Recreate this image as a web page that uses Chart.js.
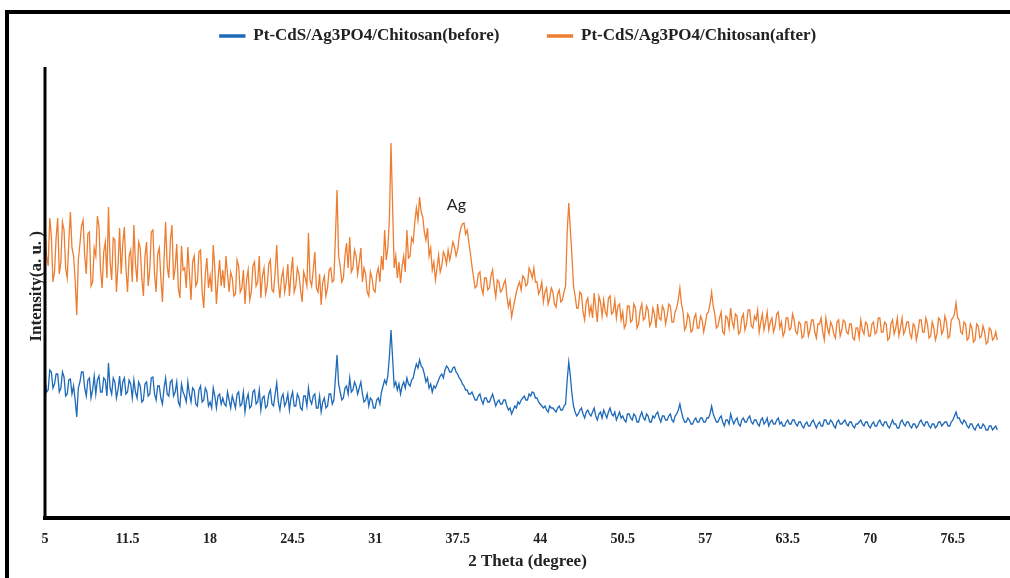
<!DOCTYPE html>
<html>
<head>
<meta charset="utf-8">
<script src="https://cdn.jsdelivr.net/npm/chart.js@4.4.0/dist/chart.umd.min.js"></script>
<style>
  body { margin: 0; background: #fff; }
</style>
</head>
<body>
<canvas id="xrdChart" width="1010" height="578"></canvas>
<script>
// 2 theta grid of the scan (degrees)
var thetaStart = 5;
var thetaStep = 0.125;

var xTicks = [5, 11.5, 18, 24.5, 31, 37.5, 44, 50.5, 57, 63.5, 70, 76.5];

// intensity, arbitrary units, one row per degree
var afterUse = [
  290, 262, 252, 300, 282, 236, 246, 280,
  300, 244, 256, 296, 288, 250, 240, 276,
  306, 270, 262, 238, 203, 258, 274, 292,
  298, 262, 244, 284, 286, 232, 236, 270,
  262, 302, 292, 248, 230, 266, 276, 240,
  311, 256, 238, 280, 278, 226, 252, 290,
  244, 274, 291, 250, 226, 262, 268, 236,
  293, 254, 236, 276, 270, 240, 222, 262,
  276, 232, 248, 286, 288, 244, 226, 264,
  270, 240, 216, 258, 296, 252, 240, 278,
  293, 238, 250, 274, 230, 220, 272, 248,
  250, 230, 271, 244, 218, 256, 262, 232,
  236, 266, 268, 226, 210, 244, 260, 230,
  242, 226, 273, 250, 214, 238, 258, 232,
  248, 230, 262, 244, 226, 246, 240, 222,
  224, 258, 252, 226, 230, 248, 214, 238,
  248, 218, 226, 252, 256, 232, 236, 262,
  220, 242, 250, 224, 232, 254, 258, 228,
  226, 246, 273, 236, 220, 240, 248, 226,
  236, 254, 222, 244, 261, 226, 232, 250,
  244, 228, 216, 246, 240, 232, 285, 238,
  232, 248, 266, 230, 226, 244, 213, 236,
  242, 222, 230, 248, 250, 236, 238, 282,
  328, 262, 252, 236, 240, 262, 275, 250,
  281, 246, 250, 268, 262, 244, 256, 270,
  236, 250, 244, 226, 222, 246, 240, 228,
  226, 244, 250, 236, 262, 248, 288, 258,
  270, 300, 375, 312, 250, 262, 240, 256,
  235, 252, 262, 246, 288, 260, 262, 280,
  276, 296, 310, 298, 321, 306, 301, 286,
  278, 290, 262, 270, 248, 256, 238, 250,
  263, 246, 252, 266, 262, 254, 268, 258,
  266, 276, 271, 262, 268, 282, 290, 294,
  295, 284, 288, 276, 265, 252, 241, 230,
  232, 244, 246, 230, 224, 240, 240, 228,
  230, 242, 248, 232, 221, 238, 236, 226,
  228, 234, 238, 222, 211, 218, 201, 210,
  218, 226, 232, 236, 228, 242, 240, 232,
  234, 250, 246, 240, 250, 236, 236, 224,
  228, 236, 216, 226, 230, 214, 220, 230,
  226, 214, 211, 224, 228, 216, 218, 226,
  232, 286, 315, 288, 262, 232, 222, 210,
  210, 226, 224, 206, 198, 216, 220, 204,
  212, 200, 225, 210, 196, 222, 216, 202,
  218, 206, 202, 220, 222, 204, 206, 218,
  200, 212, 214, 198, 206, 190, 194, 212,
  212, 196, 198, 214, 210, 190, 194, 208,
  214, 198, 200, 212, 208, 192, 196, 210,
  204, 190, 214, 200, 198, 212, 208, 194,
  202, 214, 212, 196, 196, 206, 210, 218,
  230, 214, 206, 188, 192, 204, 200, 186,
  188, 200, 204, 190, 190, 202, 198, 186,
  194, 204, 206, 214, 226, 212, 204, 190,
  192, 200, 206, 186, 184, 202, 200, 190,
  210, 196, 190, 204, 202, 184, 186, 200,
  204, 188, 194, 208, 208, 192, 190, 202,
  198, 208, 186, 196, 204, 188, 196, 206,
  188, 196, 200, 186, 192, 204, 206, 190,
  196, 182, 186, 200, 200, 188, 190, 204,
  198, 186, 184, 196, 194, 180, 182, 196,
  196, 182, 188, 198, 198, 186, 180, 194,
  194, 200, 186, 178, 200, 190, 184, 196,
  192, 184, 180, 196, 198, 182, 188, 198,
  196, 186, 184, 194, 194, 180, 178, 190,
  190, 180, 198, 188, 184, 196, 194, 182,
  182, 194, 196, 184, 186, 200, 200, 186,
  186, 196, 194, 178, 180, 194, 198, 184,
  190, 200, 182, 190, 200, 184, 188, 196,
  196, 184, 180, 194, 192, 178, 186, 198,
  198, 186, 186, 200, 194, 180, 182, 196,
  190, 178, 184, 200, 198, 184, 188, 202,
  196, 180, 182, 198, 200, 204, 215, 200,
  198, 186, 184, 196, 194, 178, 180, 194,
  190, 176, 178, 194, 192, 180, 182, 192,
  186, 174, 176, 190, 188, 178, 180, 186,
  178
];

var beforeUse = [
  140, 126, 128, 148, 146, 130, 134, 144,
  144, 126, 130, 146, 141, 122, 124, 138,
  139, 124, 132, 118, 101, 130, 136, 146,
  146, 130, 122, 138, 140, 120, 128, 142,
  124, 138, 142, 126, 126, 140, 138, 122,
  155, 130, 124, 140, 136, 120, 128, 142,
  122, 136, 140, 124, 126, 138, 134, 120,
  138, 126, 120, 136, 132, 116, 118, 134,
  136, 122, 124, 140, 141, 124, 118, 132,
  132, 120, 114, 130, 140, 124, 122, 136,
  138, 122, 126, 136, 116, 112, 134, 126,
  122, 116, 136, 124, 116, 130, 128, 114,
  112, 128, 132, 116, 118, 130, 126, 112,
  116, 110, 130, 122, 110, 122, 124, 114,
  120, 114, 112, 126, 118, 110, 122, 116,
  110, 124, 126, 112, 114, 126, 106, 118,
  124, 110, 112, 126, 128, 114, 116, 128,
  108, 120, 122, 110, 112, 124, 128, 114,
  112, 124, 135, 116, 108, 120, 124, 112,
  116, 124, 108, 120, 126, 112, 112, 124,
  120, 110, 108, 122, 122, 112, 130, 118,
  114, 122, 124, 110, 110, 122, 106, 116,
  120, 110, 112, 124, 124, 114, 118, 140,
  163, 134, 126, 118, 120, 130, 132, 124,
  140, 126, 128, 136, 132, 124, 130, 136,
  124, 116, 118, 124, 112, 120, 118, 110,
  110, 118, 120, 114, 126, 132, 138, 134,
  142, 162, 188, 160, 132, 136, 128, 134,
  124, 132, 136, 130, 140, 134, 132, 138,
  140, 148, 154, 150, 158, 152, 150, 144,
  136, 140, 130, 134, 126, 132, 130, 134,
  138, 142, 144, 140, 148, 152, 150, 146,
  146, 150, 151, 146, 144, 140, 138, 134,
  132, 128, 128, 124, 124, 126, 122, 118,
  118, 122, 124, 118, 114, 120, 120, 116,
  116, 120, 124, 118, 112, 116, 118, 114,
  114, 118, 118, 112, 108, 110, 104, 108,
  112, 110, 116, 114, 118, 120, 122, 118,
  118, 124, 122, 126, 125, 120, 120, 116,
  114, 112, 110, 112, 108, 106, 112, 110,
  110, 108, 106, 110, 112, 108, 108, 112,
  114, 138, 156, 142, 124, 112, 106, 102,
  104, 108, 110, 104, 100, 106, 108, 104,
  102, 106, 110, 102, 98, 104, 106, 100,
  108, 104, 100, 106, 110, 104, 102, 106,
  98, 102, 106, 100, 102, 98, 96, 104,
  104, 100, 98, 104, 102, 96, 96, 102,
  106, 100, 98, 104, 102, 96, 96, 102,
  100, 104, 106, 100, 96, 102, 102, 98,
  98, 102, 104, 98, 96, 102, 104, 108,
  114, 106, 100, 96, 96, 100, 98, 94,
  94, 98, 100, 96, 96, 100, 100, 96,
  96, 100, 100, 104, 112, 104, 100, 96,
  96, 100, 102, 96, 92, 98, 98, 94,
  104, 98, 94, 98, 100, 94, 92, 98,
  100, 96, 96, 100, 102, 96, 94, 98,
  98, 94, 92, 98, 100, 94, 96, 100,
  92, 96, 98, 94, 94, 98, 100, 94,
  96, 92, 92, 96, 98, 94, 94, 98,
  98, 94, 92, 96, 96, 92, 90, 94,
  96, 92, 92, 96, 98, 94, 90, 94,
  96, 92, 92, 98, 98, 94, 94, 98,
  96, 92, 90, 96, 98, 94, 94, 96,
  98, 94, 92, 96, 96, 92, 90, 94,
  94, 96, 98, 94, 92, 96, 96, 92,
  90, 94, 96, 92, 92, 96, 98, 94,
  92, 96, 96, 92, 90, 94, 98, 94,
  94, 90, 90, 96, 98, 94, 92, 96,
  96, 92, 90, 94, 94, 90, 92, 96,
  98, 94, 92, 96, 96, 92, 90, 94,
  94, 90, 92, 96, 96, 92, 94, 96,
  96, 92, 92, 96, 98, 102, 106, 100,
  100, 96, 94, 98, 96, 92, 90, 94,
  94, 90, 88, 92, 94, 90, 90, 94,
  92, 88, 88, 92, 92, 88, 90, 92,
  88
];

var seriesNames = ['Pt-CdS/Ag3PO4/Chitosan(before)', 'Pt-CdS/Ag3PO4/Chitosan(after)'];
var seriesColors = ['#1e69b8', '#ed7d31'];

var peakNote = { text: 'Ag', x: 37.4, y: 313 };
var yAxisTop = 451;

function toPoints(vals) {
  var pts = [];
  for (var i = 0; i < vals.length; i++) {
    pts.push({ x: thetaStart + i * thetaStep, y: vals[i] });
  }
  return pts;
}

var serif = 'Liberation Serif';

// frame, y axis line and the Ag label
var extras = {
  id: 'extras',
  afterDraw: function (chart) {
    var ctx = chart.ctx;
    var area = chart.chartArea;
    var xs = chart.scales.x, ys = chart.scales.y;
    ctx.save();
    ctx.strokeStyle = '#000';
    ctx.lineWidth = 4;
    ctx.beginPath();
    ctx.moveTo(7, 578);
    ctx.lineTo(7, 12);
    ctx.lineTo(1010, 12);
    ctx.stroke();

    ctx.lineWidth = 3;
    ctx.beginPath();
    ctx.moveTo(area.left, ys.getPixelForValue(yAxisTop));
    ctx.lineTo(area.left, area.bottom);
    ctx.stroke();

    ctx.fillStyle = '#222';
    ctx.font = '16px Lato';
    ctx.textAlign = 'center';
    ctx.textBaseline = 'middle';
    ctx.fillText(peakNote.text, xs.getPixelForValue(peakNote.x), ys.getPixelForValue(peakNote.y));
    ctx.restore();
  }
};

new Chart(document.getElementById('xrdChart').getContext('2d'), {
  type: 'line',
  data: {
    datasets: [
      { label: seriesNames[0], data: toPoints(beforeUse), borderColor: seriesColors[0], backgroundColor: seriesColors[0], borderWidth: 1.3 },
      { label: seriesNames[1], data: toPoints(afterUse), borderColor: seriesColors[1], backgroundColor: seriesColors[1], borderWidth: 1.3 }
    ]
  },
  options: {
    responsive: false,
    devicePixelRatio: 1,
    animation: false,
    elements: { point: { radius: 0 }, line: { tension: 0 } },
    layout: { padding: { top: -20.5, left: 26, right: 0, bottom: 0 } },
    plugins: {
      tooltip: { enabled: false },
      legend: {
        position: 'top',
        labels: {
          boxWidth: 25,
          boxHeight: 2,
          padding: 48,
          color: '#222',
          font: { family: serif, size: 17, weight: 'bold' }
        }
      }
    },
    scales: {
      x: {
        type: 'linear',
        min: 5,
        max: 81,
        afterBuildTicks: function (scale) {
          scale.ticks = xTicks.map(function (v) { return { value: v }; });
        },
        afterFit: function (scale) { scale.height = 60; },
        grid: { display: false, drawTicks: false },
        border: { display: true, color: '#000', width: 4 },
        ticks: {
          padding: 13,
          maxRotation: 0,
          autoSkip: false,
          color: '#222',
          font: { family: serif, size: 14, weight: 'bold' }
        },
        title: {
          display: true,
          text: '2 Theta (degree)',
          color: '#222',
          padding: { top: 0, bottom: 6 },
          font: { family: serif, size: 17, weight: 'bold' }
        }
      },
      y: {
        min: 0,
        max: 463.5,
        afterFit: function (scale) { scale.width = 19; },
        grid: { display: false, drawTicks: false },
        border: { display: false },
        ticks: { display: false },
        title: {
          display: true,
          text: 'Intensity(a. u. )',
          color: '#222',
          padding: { top: 0, bottom: 0 },
          font: { family: serif, size: 17, weight: 'bold' }
        }
      }
    }
  },
  plugins: [extras]
});
</script>
</body>
</html>
